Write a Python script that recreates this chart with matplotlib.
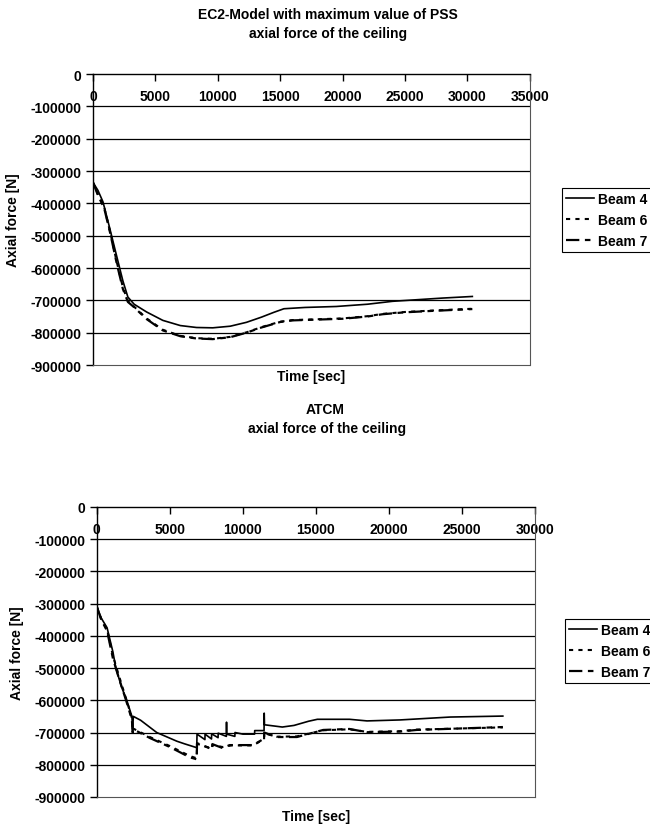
"""Axial force of the ceiling beams: EC2-Model (max PSS) vs ATCM."""
import matplotlib.pyplot as plt
import numpy as np

plt.rcParams['font.family'] = ['Liberation Sans', 'DejaVu Sans']
plt.rcParams['font.weight'] = 'bold'
plt.rcParams['font.size'] = 10
plt.rcParams['axes.unicode_minus'] = False

# --- EC2-Model with maximum value of PSS ---
ec2_t4 = [0, 400, 800, 1300, 1900, 2400, 2800, 3300, 4300, 5600, 7000, 8300, 9600,
          11000, 12300, 13500, 14500, 15300, 17000, 19500, 22000, 24000, 26000,
          28000, 30400]
ec2_beam4 = [-335000, -360000, -395000, -470000, -563000, -640000, -690000, -712000,
             -736000, -762000, -778000, -784000, -785000, -780000, -768000, -752000,
             -737000, -726000, -722000, -719000, -712000, -703000, -698000, -693000,
             -688000]
ec2_t6 = [0, 400, 900, 1400, 1900, 2400, 2800, 3200, 4300, 5600, 7000, 8300, 9600,
          11000, 12300, 13500, 15000, 16000, 17600, 20000, 22000, 23200, 25000,
          27000, 30400]
ec2_beam6 = [-335000, -372000, -412000, -492000, -580000, -660000, -702000, -716000,
             -756000, -791000, -810000, -817000, -819000, -813000, -799000, -783000,
             -766000, -761000, -759000, -756000, -749000, -742000, -736000, -732000,
             -726000]
ec2_t7 = ec2_t6
ec2_beam7 = [-335000, -375000, -415000, -495000, -585000, -665000, -705000, -718000,
             -758000, -793000, -811000, -818000, -820000, -814000, -800000, -784000,
             -767000, -762000, -760000, -757000, -750000, -743000, -737000, -733000,
             -727000]

# --- ATCM ---
atcm_t4 = [0, 300, 700, 1100, 1300, 1700, 2050, 2400, 2450, 2500, 3000, 4100, 5480,
           6000, 6840, 6860, 7400, 7410, 7850, 7860, 8300, 8310, 8870, 8880, 8890,
           9450, 9460, 10000, 10800, 10810, 11450, 11460, 11480, 12700, 13500, 14500,
           15100, 17300, 18500, 20750, 24200, 27800]
atcm_beam4 = [-310000, -345000, -375000, -450000, -500000, -560000, -600000, -650000,
              -690000, -650000, -662000, -700000, -727000, -735000, -747000, -705000,
              -722000, -705000, -720000, -704000, -716000, -702000, -712000, -668000,
              -705000, -712000, -700000, -705000, -705000, -694000, -694000, -640000,
              -676000, -683000, -678000, -665000, -659000, -659000, -664000, -661000,
              -652000, -649000]
atcm_t7 = [0, 300, 700, 1100, 1500, 2000, 2400, 2450, 2500, 3630, 5000, 6370, 6840,
           6860, 7900, 7910, 8600, 9100, 10700, 11300, 11450, 11460, 12300, 13700,
           15500, 17300, 18500, 20750, 21900, 27800]
atcm_beam7 = [-310000, -350000, -385000, -470000, -530000, -600000, -660000, -700000,
              -690000, -717000, -745000, -777000, -783000, -733000, -752000, -736000,
              -748000, -739000, -739000, -723000, -723000, -700000, -714000, -714000,
              -692000, -689000, -699000, -697000, -692000, -683000]
atcm_t6 = [0, 300, 700, 1100, 1500, 2000, 2400, 2450, 2500, 3630, 5000, 6370, 6840,
           6860, 7900, 7910, 8600, 9200, 10700, 11300, 11450, 11460, 12300, 13700,
           15500, 17300, 18500, 20750, 21900, 27800]
atcm_beam6 = [-310000, -348000, -380000, -462000, -522000, -595000, -655000, -695000,
              -688000, -714000, -742000, -773000, -780000, -735000, -750000, -738000,
              -745000, -740000, -740000, -724000, -722000, -702000, -713000, -712000,
              -693000, -690000, -698000, -696000, -691000, -684000]

y_ticks = np.arange(-900000, 1, 100000)

STYLE = {
    'Beam 4': dict(color='black', lw=1.2, linestyle='-'),
    'Beam 6': dict(color='black', lw=1.5, dashes=(2, 2.5)),
    'Beam 7': dict(color='black', lw=1.6, dashes=(6, 2.5, 2.5, 2.5)),
}


def style_axes(ax, xmax, xlabel_pad):
    ax.set_xlim(0, xmax)
    ax.set_ylim(-900000, 0)
    ax.set_yticks(y_ticks)
    ax.set_yticklabels([f"{int(v)}" for v in y_ticks])
    ax.set_xticks(np.arange(0, xmax + 1, 5000))
    ax.tick_params(axis='x', top=True, bottom=False, labeltop=True, labelbottom=False,
                   direction='in', length=5, width=1, pad=-21, labelsize=10)
    ax.tick_params(axis='y', direction='out', length=5, width=1, labelsize=10)
    ax.yaxis.grid(True, color='black', lw=0.9)
    gl = ax.get_ygridlines()
    gl[0].set_visible(False)
    gl[-1].set_visible(False)
    for side in ('top', 'left'):
        ax.spines[side].set_color('black')
        ax.spines[side].set_linewidth(1.0)
    for side in ('right', 'bottom'):
        ax.spines[side].set_color('#555555')
        ax.spines[side].set_linewidth(0.8)
        ax.spines[side].set_linestyle((0, (1, 1)))
    ax.set_ylabel("Axial force [N]", fontsize=10, fontweight='bold', labelpad=7)
    ax.xaxis.set_label_position('bottom')
    ax.set_xlabel("Time [sec]", fontsize=10, fontweight='bold', labelpad=xlabel_pad)


def main():
    fig = plt.figure(figsize=(6.5, 8.29), dpi=100)
    ax1 = fig.add_axes([0.143, 0.5585, 0.672, 0.351])
    ax2 = fig.add_axes([0.149, 0.0374, 0.674, 0.350])

    ax1.plot(ec2_t4, ec2_beam4, label='Beam 4', **STYLE['Beam 4'])
    ax1.plot(ec2_t6, ec2_beam6, label='Beam 6', **STYLE['Beam 6'])
    ax1.plot(ec2_t7, ec2_beam7, label='Beam 7', **STYLE['Beam 7'])
    style_axes(ax1, 35000, 3)

    ax2.plot(atcm_t4, atcm_beam4, label='Beam 4', **STYLE['Beam 4'])
    ax2.plot(atcm_t6, atcm_beam6, label='Beam 6', **STYLE['Beam 6'])
    ax2.plot(atcm_t7, atcm_beam7, label='Beam 7', **STYLE['Beam 7'])
    style_axes(ax2, 30000, 9)

    for ax, anchor in ((ax1, (562 / 650, 1 - 189 / 829)), (ax2, (565 / 650, 1 - 620 / 829))):
        leg = ax.legend(loc='upper left', bbox_to_anchor=anchor, bbox_transform=fig.transFigure,
                        borderaxespad=0, borderpad=0.3, handlelength=2.0, handletextpad=0.3,
                        labelspacing=0.5, fancybox=False, framealpha=1, fontsize=10)
        leg.get_frame().set_edgecolor('black')
        leg.get_frame().set_linewidth(0.8)

    fig.text(0.505, 1 - 15 / 829, "EC2-Model with maximum value of PSS", ha='center',
             va='center', fontsize=10, fontweight='bold')
    fig.text(0.505, 1 - 34 / 829, "axial force of the ceiling", ha='center',
             va='center', fontsize=10, fontweight='bold')
    fig.text(0.500, 1 - 410 / 829, "ATCM", ha='center', va='center', fontsize=10,
             fontweight='bold')
    fig.text(0.503, 1 - 429 / 829, "axial force of the ceiling", ha='center',
             va='center', fontsize=10, fontweight='bold')

    fig.savefig("out.png", dpi=100)


if __name__ == "__main__":
    main()
